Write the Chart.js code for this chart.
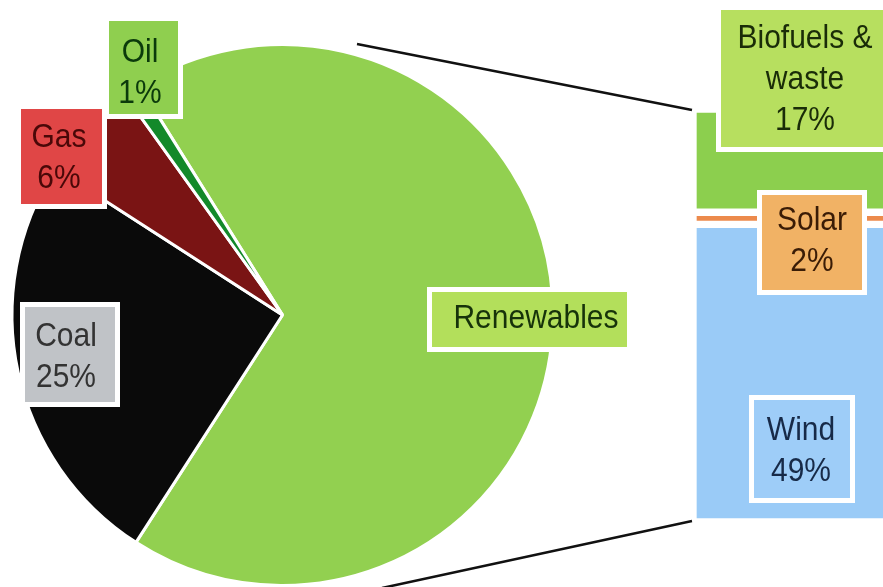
<!DOCTYPE html>
<html lang="en">
<head>
<meta charset="UTF-8">
<title>Energy mix</title>
<script src="https://cdn.jsdelivr.net/npm/chart.js"></script>
<style>
    html, body {
        margin: 0;
        padding: 0;
        background: #fff;
        overflow: hidden;
    }
    body {
        width: 883px;
        height: 587px;
        position: relative;
    }
    #barChart {
        position: absolute;
        left: 693px;
        top: 109px;
    }
    #pieChart {
        position: absolute;
        left: 0;
        top: 0;
    }
</style>
</head>
<body>
<canvas id="barChart" width="220" height="413"></canvas>
<canvas id="pieChart" width="883" height="587"></canvas>
<script>
// main pie (clockwise from Renewables)
const pieLabels = ['Renewables', 'Coal', 'Gas', 'Oil'];
const pieValues = [68, 25, 6, 1];
const pieColors = ['#92d050', '#0a0a0a', '#7a1414', '#13892a'];

// renewables split, stacked bottom to top
const subLabels = ['Wind', 'Solar', 'Biofuels &\nwaste'];
const subValues = [49, 2, 17];
const subColors = ['#9acbf7', '#ec8a4c', '#8ccf4e'];

// label boxes: inner rect, colours, text centre and first baseline
const labelLayout = {
    'Renewables':      { x: 432, y: 292, w: 195, h: 55, fill: '#b3df5b', color: '#17330a', cx: 536, by: 328, pct: false },
    'Coal':            { x: 25,  y: 307, w: 90,  h: 95, fill: '#c0c3c7', color: '#333333', cx: 66,  by: 346, pct: true },
    'Gas':             { x: 21,  y: 109, w: 81,  h: 95, fill: '#e04646', color: '#4a0808', cx: 59,  by: 147, pct: true },
    'Oil':             { x: 109, y: 21,  w: 69,  h: 93, fill: '#8fcf4f', color: '#0b3a0b', cx: 140, by: 62,  pct: true },
    'Wind':            { x: 754, y: 400, w: 96,  h: 98, fill: '#9ecdf8', color: '#172a48', cx: 801, by: 440, pct: true },
    'Solar':           { x: 762, y: 195, w: 100, h: 95, fill: '#f1b265', color: '#3a1c06', cx: 812, by: 230, pct: true },
    'Biofuels &\nwaste': { x: 721, y: 10, w: 180, h: 137, fill: '#b7df5f', color: '#1a2c08', cx: 805, by: 48, pct: true }
};

const barChart = new Chart(document.getElementById('barChart'), {
    type: 'bar',
    data: {
        labels: ['Renewables'],
        datasets: subLabels.map((name, i) => ({
            label: name,
            data: [subValues[i]],
            backgroundColor: subColors[i],
            borderColor: '#fff',
            borderWidth: 4,
            borderSkipped: false,
            categoryPercentage: 1,
            barPercentage: 1
        }))
    },
    options: {
        responsive: false,
        animation: false,
        layout: { padding: 0 },
        plugins: { legend: { display: false }, tooltip: { enabled: false } },
        scales: {
            x: { stacked: true, display: false },
            y: { stacked: true, display: false, min: 0, max: 68 }
        }
    }
});

function drawLabel(ctx, text, box) {
    ctx.fillStyle = '#fff';
    ctx.fillRect(box.x - 5, box.y - 5, box.w + 10, box.h + 10);
    ctx.fillStyle = box.fill;
    ctx.fillRect(box.x, box.y, box.w, box.h);
    ctx.fillStyle = box.color;
    ctx.font = '30px "Liberation Sans", Arial, sans-serif';
    ctx.textAlign = 'center';
    ctx.textBaseline = 'alphabetic';
    text.split('\n').forEach((line, k) => {
        ctx.save();
        ctx.translate(box.cx, box.by + k * 41);
        ctx.scale(1, 1.1);
        ctx.fillText(line, 0, 0);
        ctx.restore();
    });
}

const overlay = {
    id: 'overlay',
    afterDatasetsDraw(chart) {
        const ctx = chart.ctx;
        const canvasBar = barChart.canvas;
        const topEl = barChart.getDatasetMeta(2).data[0];
        const botEl = barChart.getDatasetMeta(0).data[0];
        const barLeft = canvasBar.offsetLeft + topEl.x - topEl.width / 2 - 1;
        const barTop = canvasBar.offsetTop + topEl.y;
        const barBottom = canvasBar.offsetTop + botEl.base;

        // connector lines pie -> bar
        ctx.save();
        ctx.strokeStyle = '#111';
        ctx.lineWidth = 2.5;
        ctx.beginPath();
        ctx.moveTo(357, 44);
        ctx.lineTo(barLeft, barTop + 1);
        ctx.moveTo(382, 588);
        ctx.lineTo(barLeft, barBottom - 1);
        ctx.stroke();
        ctx.restore();

        pieLabels.forEach((name, i) => {
            const box = labelLayout[name];
            drawLabel(ctx, box.pct ? name + '\n' + pieValues[i] + '%' : name, box);
        });
        subLabels.forEach((name, i) => {
            const box = labelLayout[name];
            drawLabel(ctx, name + '\n' + subValues[i] + '%', box);
        });
    }
};

new Chart(document.getElementById('pieChart'), {
    type: 'pie',
    data: {
        labels: pieLabels,
        datasets: [{
            data: pieValues,
            backgroundColor: pieColors,
            borderColor: '#fff',
            borderWidth: 3
        }]
    },
    options: {
        responsive: false,
        animation: false,
        rotation: -32,
        layout: { padding: { left: 10, right: 328, top: 43, bottom: 0 } },
        plugins: { legend: { display: false }, tooltip: { enabled: false } }
    },
    plugins: [overlay]
});
</script>
</body>
</html>
